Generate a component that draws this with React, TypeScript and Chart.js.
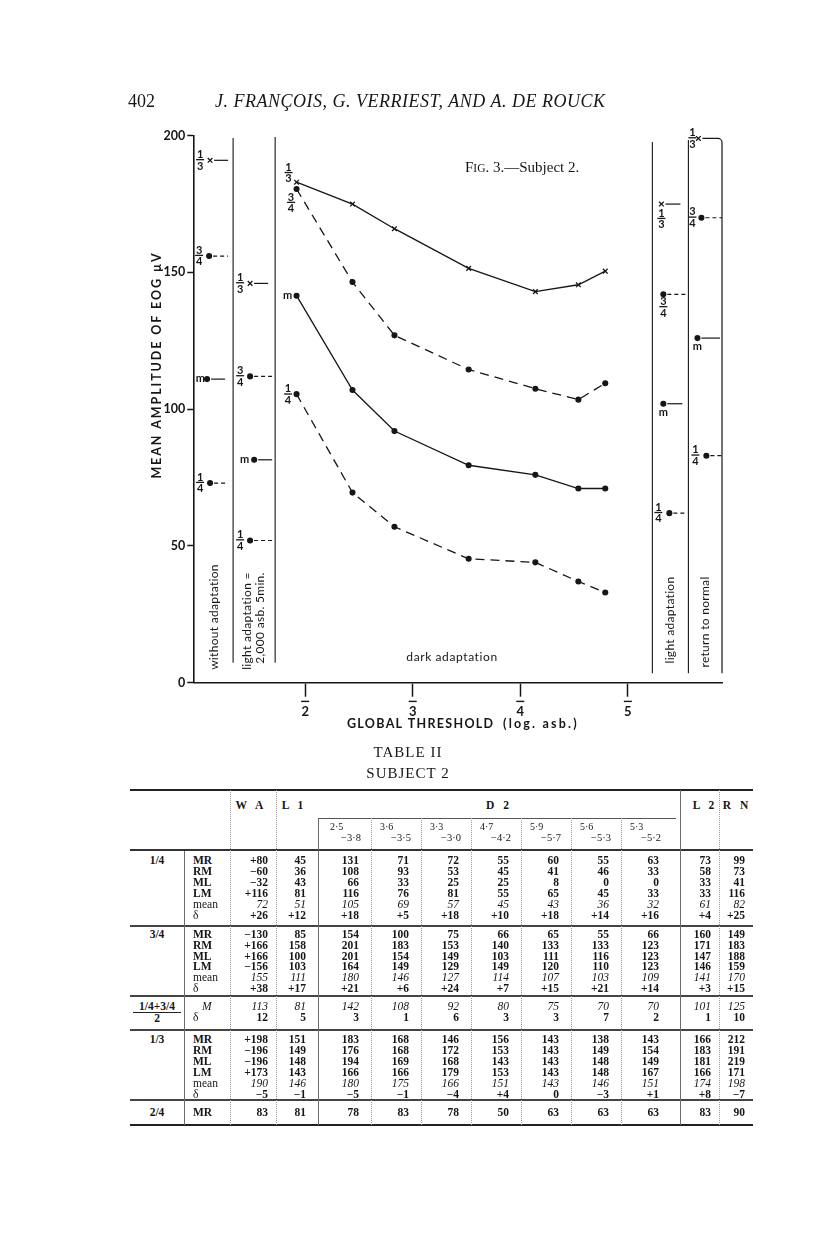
import React, { useEffect, useRef } from "react";
import { Chart, registerables } from "chart.js";
Chart.register(...registerables);

// ---------------- chart data ----------------
const seriesLabels = ["1/3", "3/4", "m", "1/4"];
// global threshold positions of the dark-adaptation readings (axis unit k = k̄ log asb.)
const darkThresholds = [1.92, 2.44, 2.83, 3.52, 4.14, 4.54, 4.79];
const dark13 = [183, 175, 166, 151.5, 143, 145.5, 150.5];
const dark34 = [180.5, 146.5, 127, 114.5, 107.5, 103.5, 109.5];
const darkM = [141.5, 107, 92, 79.5, 76, 71, 71];
const dark14 = [105.5, 69.5, 57, 45.3, 44, 37, 33];
// side panels, values for [1/3, 3/4, m, 1/4]
const withoutAdaptation = [191, 156, 111, 73];
const lightAdaptation1 = [146, 112, 81.5, 52];
const lightAdaptation2 = [175, 142, 102, 62];
const returnToNormal = [199, 170, 126, 83];
const xTickValues = [2, 3, 4, 5];
const yTickValues = [0, 50, 100, 150, 200];

// ---------------- table data ----------------
const colHeads = ["W A", "L 1", "D 2", "L 2", "R N"];
const d2Top = ["2·5", "3·6", "3·3", "4·7", "5·9", "5·6", "5·3"];
const d2Bottom = ["−3·8", "−3·5", "−3·0", "−4·2", "−5·7", "−5·3", "−5·2"];
const rowLabels = ["MR", "RM", "ML", "LM", "mean", "δ"];
const quarterRows = [
  ["+80", "45", "131", "71", "72", "55", "60", "55", "63", "73", "99"],
  ["−60", "36", "108", "93", "53", "45", "41", "46", "33", "58", "73"],
  ["−32", "43", "66", "33", "25", "25", "8", "0", "0", "33", "41"],
  ["+116", "81", "116", "76", "81", "55", "65", "45", "33", "33", "116"],
  ["72", "51", "105", "69", "57", "45", "43", "36", "32", "61", "82"],
  ["+26", "+12", "+18", "+5", "+18", "+10", "+18", "+14", "+16", "+4", "+25"],
];
const threeQuarterRows = [
  ["−130", "85", "154", "100", "75", "66", "65", "55", "66", "160", "149"],
  ["+166", "158", "201", "183", "153", "140", "133", "133", "123", "171", "183"],
  ["+166", "100", "201", "154", "149", "103", "111", "116", "123", "147", "188"],
  ["−156", "103", "164", "149", "129", "149", "120", "110", "123", "146", "159"],
  ["155", "111", "180", "146", "127", "114", "107", "103", "109", "141", "170"],
  ["+38", "+17", "+21", "+6", "+24", "+7", "+15", "+21", "+14", "+3", "+15"],
];
const averageRows = [
  ["113", "81", "142", "108", "92", "80", "75", "70", "70", "101", "125"],
  ["12", "5", "3", "1", "6", "3", "3", "7", "2", "1", "10"],
];
const thirdRows = [
  ["+198", "151", "183", "168", "146", "156", "143", "138", "143", "166", "212"],
  ["−196", "149", "176", "168", "172", "153", "143", "149", "154", "183", "191"],
  ["−196", "148", "194", "169", "168", "143", "143", "148", "149", "181", "219"],
  ["+173", "143", "166", "166", "179", "153", "143", "148", "167", "166", "171"],
  ["190", "146", "180", "175", "166", "151", "143", "146", "151", "174", "198"],
  ["−5", "−1", "−5", "−1", "−4", "+4", "0", "−3", "+1", "+8", "−7"],
];
const halfRows = [["83", "81", "78", "83", "78", "50", "63", "63", "63", "83", "90"]];

// ---------------- layout ----------------
const INK = "#161616";
const SANS = "Lato, 'DejaVu Sans', sans-serif";
const SERIF = "'Liberation Serif', 'Times New Roman', serif";
const CANVAS_TOP = 110;
const CW = 816;
const CH = 650;
const PANEL = { waRight: 1.33, l1Right: 1.721, l2Left: 5.228, rnLeft: 5.563, rnRight: 5.88 };
const MARKER_X: Record<string, number[]> = {
  wa: [1.116, 1.107, 1.088, 1.116],
  l1: [1.488, 1.488, 1.526, 1.488],
  l2: [5.312, 5.33, 5.33, 5.386],
  rn: [5.656, 5.684, 5.647, 5.73],
};
const panelKeys = ["wa", "l1", "l2", "rn"];
const sidePanels = [withoutAdaptation, lightAdaptation1, lightAdaptation2, returnToNormal];
const darkSeries = [dark13, dark34, darkM, dark14];
const seriesDash = [[], [9, 6], [], [9, 6]];
const seriesPoint = ["crossRot", "circle", "circle", "circle"];
const seriesRadius = [3.3, 2.4, 2.4, 2.4];

function fraction(ctx: CanvasRenderingContext2D, label: string, cx: number, cy: number) {
  const [n, d] = label.split("/");
  ctx.font = `bold 11px ${SANS}`;
  (ctx as any).letterSpacing = "0px";
  ctx.textAlign = "center";
  ctx.textBaseline = "alphabetic";
  ctx.fillText(n, cx, cy - 2.3);
  ctx.fillRect(cx - 4, cy - 1.3, 8, 1.3);
  ctx.fillText(d, cx, cy + 9.3);
}

function seriesLabel(ctx: CanvasRenderingContext2D, s: number, cx: number, cy: number) {
  if (seriesLabels[s] === "m") {
    ctx.font = `bold 11px ${SANS}`;
    ctx.textAlign = "center";
    ctx.textBaseline = "alphabetic";
    ctx.fillText("m", cx, cy + 3);
  } else fraction(ctx, seriesLabels[s], cx, cy);
}

function vText(ctx: CanvasRenderingContext2D, s: string, cx: number, cy: number, font: string, spacing = "0px") {
  ctx.save();
  ctx.translate(cx, cy);
  ctx.rotate(-Math.PI / 2);
  ctx.font = font;
  (ctx as any).letterSpacing = spacing;
  ctx.textAlign = "center";
  ctx.textBaseline = "middle";
  ctx.fillText(s, 0, 0);
  ctx.restore();
}

const annotations = {
  id: "eogAnnotations",
  afterDraw(chart: any) {
    const ctx: CanvasRenderingContext2D = chart.ctx;
    const xs = chart.scales.x;
    const ys = chart.scales.y;
    const X = (v: number) => xs.getPixelForValue(v);
    const Y = (v: number) => ys.getPixelForValue(v);
    const py = (pageY: number) => pageY - CANVAS_TOP;
    ctx.save();
    ctx.strokeStyle = INK;
    ctx.fillStyle = INK;
    const seg = (x1: number, y1: number, x2: number, y2: number, w = 1.1, dash: number[] = []) => {
      ctx.beginPath();
      ctx.setLineDash(dash);
      ctx.lineWidth = w;
      ctx.moveTo(x1, y1);
      ctx.lineTo(x2, y2);
      ctx.stroke();
      ctx.setLineDash([]);
    };
    // panel separators
    seg(X(PANEL.waRight), Y(199.2), X(PANEL.waRight), Y(7.3));
    seg(X(PANEL.l1Right), Y(199.5), X(PANEL.l1Right), Y(7.3));
    seg(X(PANEL.l2Left), Y(197.7), X(PANEL.l2Left), Y(3.5));
    seg(X(PANEL.rnLeft), Y(198.4), X(PANEL.rnLeft), Y(3.5));
    // right border with bracket from the 1/3 return-to-normal marker
    const rx = X(PANEL.rnRight) - 0.5;
    const ty = Y(returnToNormal[0]);
    ctx.beginPath();
    ctx.lineWidth = 1.2;
    ctx.moveTo(X(MARKER_X.rn[0]) + 4, ty);
    ctx.lineTo(rx - 4, ty);
    ctx.arcTo(rx, ty, rx, ty + 4, 4);
    ctx.lineTo(rx, Y(3.5));
    ctx.stroke();

    // short key lines beside side-panel markers
    const panelRight = [X(PANEL.waRight), X(PANEL.l1Right), X(PANEL.rnLeft), rx];
    const endPad = [
      [-5, -5, -8, -5],
      [-7, -3, -3, -3],
      [-8, -1, -6, -1],
      [0, 0, -2, 0],
    ];
    panelKeys.forEach((k, p) => {
      for (let s = 0; s < 4; s++) {
        if (p === 3 && s === 0) continue;
        const mx = X(MARKER_X[k][s]);
        const my = Y(sidePanels[p][s]);
        seg(mx + 4, my, panelRight[p] + endPad[p][s], my, 1.2, s % 2 === 1 ? [4, 3] : []);
        if (p <= 1) {
          if (s === 2) {
            ctx.font = `bold 11px ${SANS}`;
            ctx.textAlign = "right";
            ctx.textBaseline = "alphabetic";
            ctx.fillText("m", mx - (p === 0 ? 2 : 5), my + 3);
          } else fraction(ctx, seriesLabels[s], mx - 10, my);
        } else if (p === 2) {
          if (s === 3) fraction(ctx, seriesLabels[s], mx - 11, my);
          else if (s === 2) seriesLabel(ctx, s, mx, my + 9);
          else fraction(ctx, seriesLabels[s], mx, my + (s === 0 ? 15 : 13));
        } else {
          if (s === 2) seriesLabel(ctx, s, mx, my + 9);
          else fraction(ctx, seriesLabels[s], mx - (s === 3 ? 11 : 9), my);
        }
      }
    });
    fraction(ctx, seriesLabels[0], X(MARKER_X.rn[0]) - 6, Y(returnToNormal[0]));

    // labels on the first dark-adaptation points
    const x0 = X(darkThresholds[0]);
    const offs = [
      [-8, -9],
      [-5.5, 14],
      [-9, 0],
      [-8.5, 0.5],
    ];
    darkSeries.forEach((arr, s) => seriesLabel(ctx, s, x0 + offs[s][0], Y(arr[0]) + offs[s][1]));

    // x tick bars (negative characteristic)
    xTickValues.forEach((v) => ctx.fillRect(X(v) - 4, ys.bottom + 18, 8, 1.4));

    // panel captions
    ctx.fillStyle = INK;
    vText(ctx, "without adaptation", 214, py(617), `12px ${SANS}`, "0.3px");
    vText(ctx, "light adaptation =", 247, py(621), `12px ${SANS}`, "0.3px");
    vText(ctx, "2,000 asb. 5min.", 260, py(618), `12px ${SANS}`, "0.3px");
    vText(ctx, "light adaptation", 670, py(620), `12px ${SANS}`, "0.3px");
    vText(ctx, "return to normal", 705, py(622), `12px ${SANS}`, "0.3px");
    ctx.font = `12px ${SANS}`;
    (ctx as any).letterSpacing = "0.6px";
    ctx.textAlign = "center";
    ctx.textBaseline = "middle";
    ctx.fillText("dark adaptation", 452, py(657));

    // axis titles
    vText(ctx, "MEAN AMPLITUDE OF EOG µV", 157, py(365), `bold 12.5px ${SANS}`, "1.9px");
    ctx.font = `bold 12.5px ${SANS}`;
    (ctx as any).letterSpacing = "1.3px";
    ctx.textAlign = "left";
    ctx.textBaseline = "middle";
    ctx.fillText("GLOBAL THRESHOLD", 347, py(724));
    ctx.font = `bold 12.5px ${SANS}`;
    (ctx as any).letterSpacing = "2.2px";
    ctx.fillText("(log. asb.)", 503, py(724));
    ctx.restore();
  },
};

function buildConfig(): any {
  const datasets: any[] = darkSeries.map((arr, s) => ({
    label: seriesLabels[s],
    data: darkThresholds.map((x, i) => ({ x, y: arr[i] })),
    showLine: true,
    borderColor: INK,
    borderWidth: 1.3,
    borderDash: seriesDash[s],
    pointStyle: seriesPoint[s],
    pointRadius: seriesRadius[s],
    pointBackgroundColor: INK,
    pointBorderColor: INK,
    pointBorderWidth: 1.3,
    clip: false,
  }));
  seriesLabels.forEach((lab, s) => {
    datasets.push({
      label: lab + " side panels",
      data: panelKeys.map((k, p) => ({ x: MARKER_X[k][s], y: sidePanels[p][s] })),
      showLine: false,
      pointStyle: seriesPoint[s],
      pointRadius: seriesRadius[s],
      pointBackgroundColor: INK,
      pointBorderColor: INK,
      pointBorderWidth: 1.3,
      clip: false,
    });
  });
  return {
    type: "scatter",
    data: { datasets },
    plugins: [annotations],
    options: {
      animation: false,
      responsive: false,
      devicePixelRatio: 1,
      events: [],
      layout: { padding: { left: 153.3, right: 93.5, top: 25.7, bottom: 27.3 } },
      plugins: { legend: { display: false }, tooltip: { enabled: false }, title: { display: false } },
      scales: {
        x: {
          type: "linear",
          position: "bottom",
          min: 0.96,
          max: 5.88,
          afterBuildTicks: (sc: any) => {
            sc.ticks = xTickValues.map((v) => ({ value: v }));
          },
          afterFit: (sc: any) => {
            sc.height = 50;
          },
          border: { display: true, color: INK, width: 1.6 },
          grid: { display: true, drawOnChartArea: false, drawTicks: true, tickLength: 14, tickWidth: 1.5, tickColor: INK },
          ticks: {
            color: INK,
            padding: 7,
            font: { family: SANS, size: 13, weight: "bold" },
            callback: (v: any) => String(v),
          },
        },
        y: {
          type: "linear",
          min: 0,
          max: 200,
          afterBuildTicks: (sc: any) => {
            sc.ticks = yTickValues.map((v) => ({ value: v }));
          },
          afterFit: (sc: any) => {
            sc.width = 40;
          },
          border: { display: true, color: INK, width: 1.6 },
          grid: { display: true, drawOnChartArea: false, drawTicks: true, tickLength: 6, tickWidth: 1.5, tickColor: INK },
          ticks: {
            color: INK,
            padding: 2,
            font: { family: SANS, size: 12.5, weight: "bold" },
            callback: (v: any) => String(v),
          },
        },
      },
    },
  };
}

// ---------------- table helpers ----------------
const VALUE_RIGHT = [268, 306, 359, 409, 459, 509, 559, 609, 659, 711, 745];
const TABLE_L = 130;
const TABLE_R = 753;

function T(props: { x: number; y: number; align?: "left" | "right" | "center"; w?: number; style?: any; children: any }) {
  const { x, y, align = "right", w = 70, style, children } = props;
  const left = align === "right" ? x - w : align === "center" ? x - w / 2 : x;
  return (
    <div
      style={{
        position: "absolute",
        left,
        top: y - 7,
        width: w,
        height: 14,
        lineHeight: "14px",
        textAlign: align,
        whiteSpace: "nowrap",
        fontFamily: SERIF,
        fontSize: 11.5,
        color: INK,
        ...style,
      }}
    >
      {children}
    </div>
  );
}

function HLine(props: { x1: number; x2: number; y: number; w?: number; c?: string }) {
  const { x1, x2, y, w = 1, c = "#333" } = props;
  return <div style={{ position: "absolute", left: x1, top: y - w / 2, width: x2 - x1, height: w, background: c }} />;
}
function VLine(props: { x: number; y1: number; y2: number; dotted?: boolean }) {
  const { x, y1, y2, dotted } = props;
  return (
    <div
      style={{
        position: "absolute",
        left: x,
        top: y1,
        height: y2 - y1,
        width: 0,
        borderLeft: dotted ? "1px dotted #9a9a9a" : "1px solid #6a6a6a",
      }}
    />
  );
}

function Block(props: { rows: string[][]; labels: string[]; y0: number; step: number }) {
  const { rows, labels, y0, step } = props;
  const out: any[] = [];
  rows.forEach((row, r) => {
    const y = y0 + r * step;
    const lab = labels[r];
    const isMean = lab === "mean";
    const isM = lab === "M";
    out.push(
      <T key={"l" + r} x={isM ? 202 : 193} y={y} align="left" style={{ fontWeight: lab === "mean" || lab === "δ" || isM ? "normal" : "bold", fontStyle: isM ? "italic" : "normal" }}>
        {lab}
      </T>
    );
    row.forEach((v, c) =>
      out.push(
        <T key={r + "-" + c} x={VALUE_RIGHT[c]} y={y} style={{ fontWeight: isMean || isM ? "normal" : "bold", fontStyle: isMean || isM ? "italic" : "normal" }}>
          {v}
        </T>
      )
    );
  });
  return <>{out}</>;
}

export default function App() {
  const ref = useRef<HTMLCanvasElement>(null);
  useEffect(() => {
    const chart = new Chart(ref.current as HTMLCanvasElement, buildConfig());
    return () => chart.destroy();
  }, []);

  const d2Lefts = [318, 371, 421, 471, 521, 571, 621];
  const tableTop = 790;
  const tableBottom = 1125;

  return (
    <div style={{ position: "absolute", left: 0, top: 0, width: 816, height: 1243, background: "#fff", overflow: "hidden" }}>
      <canvas ref={ref} width={CW} height={CH} style={{ position: "absolute", left: 0, top: CANVAS_TOP, width: CW, height: CH }} />

      {/* running head */}
      <div style={{ position: "absolute", left: 128, top: 91, fontFamily: SERIF, fontSize: 18, lineHeight: "20px", color: INK }}>402</div>
      <div style={{ position: "absolute", left: 215, top: 91, fontFamily: SERIF, fontSize: 18, lineHeight: "20px", fontStyle: "italic", color: INK, letterSpacing: 0.5 }}>
        J. FRANÇOIS, G. VERRIEST, AND A. DE ROUCK
      </div>

      {/* figure caption */}
      <div style={{ position: "absolute", left: 465, top: 158, fontFamily: SERIF, fontSize: 15, lineHeight: "18px", color: INK, whiteSpace: "nowrap" }}>
        F<span style={{ fontSize: 11.5 }}>IG</span>. 3.—Subject 2.
      </div>

      {/* table title */}
      <div style={{ position: "absolute", left: 308, width: 200, top: 743, textAlign: "center", fontFamily: SERIF, fontSize: 15, lineHeight: "18px", letterSpacing: 1, color: INK }}>TABLE II</div>
      <div style={{ position: "absolute", left: 308, width: 200, top: 764, textAlign: "center", fontFamily: SERIF, fontSize: 15, lineHeight: "18px", letterSpacing: 1, color: INK }}>SUBJECT 2</div>

      {/* table rules */}
      <HLine x1={TABLE_L} x2={TABLE_R} y={tableTop} w={2} c="#222" />
      <HLine x1={318} x2={676} y={818} w={1} c="#555" />
      <HLine x1={TABLE_L} x2={TABLE_R} y={850} w={1.5} c="#333" />
      {[926, 996, 1030, 1100].map((y) => (
        <HLine key={y} x1={TABLE_L} x2={TABLE_R} y={y} w={1.2} c="#444" />
      ))}
      <HLine x1={TABLE_L} x2={TABLE_R} y={tableBottom} w={2} c="#222" />
      <HLine x1={133} x2={181} y={1012} w={1} c="#222" />

      <VLine x={184} y1={851} y2={tableBottom} />
      <VLine x={230} y1={tableTop} y2={tableBottom} dotted />
      <VLine x={276} y1={tableTop} y2={tableBottom} dotted />
      <VLine x={318} y1={818} y2={tableBottom} />
      {d2Lefts.slice(1).map((x) => (
        <VLine key={x} x={x} y1={818} y2={tableBottom} dotted />
      ))}
      <VLine x={680} y1={tableTop} y2={tableBottom} />
      <VLine x={719} y1={tableTop} y2={tableBottom} dotted />

      {/* column heads */}
      <T x={251} y={805} align="center" style={{ fontWeight: "bold", letterSpacing: 3 }}>{colHeads[0]}</T>
      <T x={294} y={805} align="center" style={{ fontWeight: "bold", letterSpacing: 3 }}>{colHeads[1]}</T>
      <T x={499} y={805} align="center" style={{ fontWeight: "bold", letterSpacing: 3 }}>{colHeads[2]}</T>
      <T x={705} y={805} align="center" style={{ fontWeight: "bold", letterSpacing: 3 }}>{colHeads[3]}</T>
      <T x={737} y={805} align="center" style={{ fontWeight: "bold", letterSpacing: 3 }}>{colHeads[4]}</T>
      {d2Top.map((s, i) => (
        <T key={"t" + i} x={VALUE_RIGHT[i + 2] - 29} y={827} align="left" style={{ fontSize: 10 }}>
          {s}
        </T>
      ))}
      {d2Bottom.map((s, i) => (
        <T key={"b" + i} x={VALUE_RIGHT[i + 2] + 2} y={838} style={{ fontSize: 10.5 }}>
          {s}
        </T>
      ))}

      {/* group labels */}
      <T x={157} y={860} align="center" style={{ fontWeight: "bold" }}>1/4</T>
      <T x={157} y={934} align="center" style={{ fontWeight: "bold" }}>3/4</T>
      <T x={157} y={1006} align="center" style={{ fontWeight: "bold" }}>1/4+3/4</T>
      <T x={157} y={1018} align="center" style={{ fontWeight: "bold" }}>2</T>
      <T x={157} y={1039} align="center" style={{ fontWeight: "bold" }}>1/3</T>
      <T x={157} y={1112} align="center" style={{ fontWeight: "bold" }}>2/4</T>

      <Block rows={quarterRows} labels={rowLabels} y0={860} step={11} />
      <Block rows={threeQuarterRows} labels={rowLabels} y0={934} step={10.8} />
      <Block rows={averageRows} labels={["M", "δ"]} y0={1006} step={11} />
      <Block rows={thirdRows} labels={rowLabels} y0={1039} step={11} />
      <Block rows={halfRows} labels={["MR"]} y0={1112} step={11} />
    </div>
  );
}
